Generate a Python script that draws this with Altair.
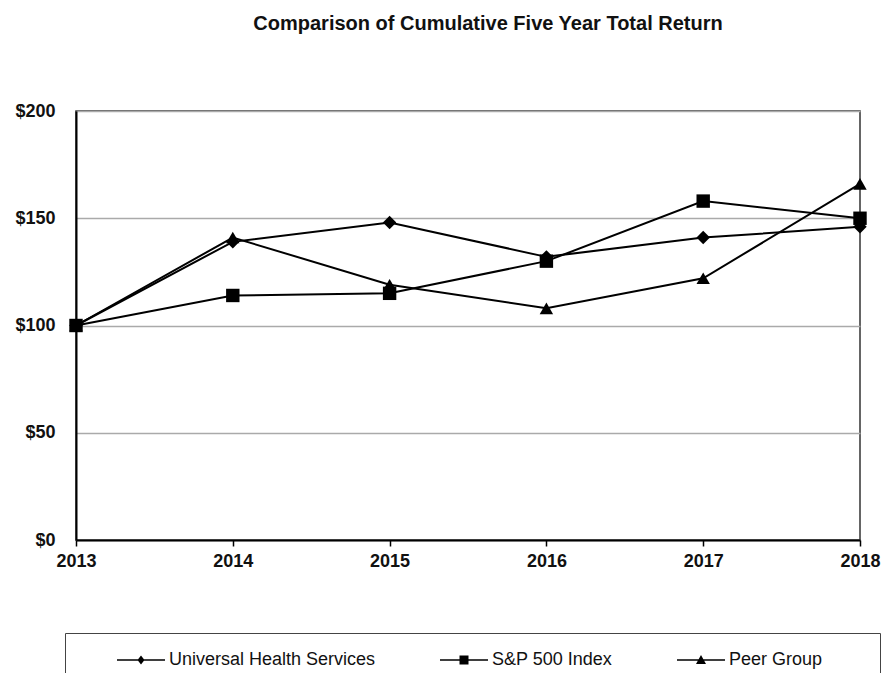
import altair as alt
import pandas as pd

years = [2013, 2014, 2015, 2016, 2017, 2018]
series_names = ["Universal Health Services", "S&P 500 Index", "Peer Group"]
uhs = [100, 139, 148, 132, 141, 146]
sp500 = [100, 114, 115, 130, 158, 150]
peer = [100, 141, 119, 108, 122, 166]
y_ticks = [0, 50, 100, 150, 200]
title_text = "Comparison  of Cumulative Five Year Total Return"

rows = []
for name, vals in zip(series_names, [uhs, sp500, peer]):
    for yr, v in zip(years, vals):
        rows.append({"year": yr, "series": name, "value": v})
df = pd.DataFrame(rows)

marker_shapes = ["diamond", "square", "triangle-up"]
# legend glyphs: a short line (thin filled bar) with the series marker on it;
# the last one carries an extra move-to so the legend frame reaches further right
legend_shapes = [
    "M5,-0.17H14.6V0.17H5Z M9.8,-0.9L10.5,0L9.8,0.9L9.1,0Z",
    "M5,-0.17H14.6V0.17H5Z M8.9,-0.9H10.7V0.9H8.9Z",
    "M5,-0.17H14.6V0.17H5Z M9.8,-1L10.8,0.8H8.8Z M42,0",
]

FONT = "Liberation Sans"

x = alt.X(
    "year:Q",
    scale=alt.Scale(domain=[2013, 2018], nice=False, zero=False),
    axis=alt.Axis(values=years, format="d", title=None, grid=False,
                  tickSize=6, tickColor="black", tickWidth=1.5,
                  labelPadding=6, labelFontSize=18, labelFontWeight="bold",
                  labelColor="#111", labelFont=FONT, labelFlush=False,
                  labelOverlap=False, domainColor="black", domainWidth=2),
)
y = alt.Y(
    "value:Q",
    scale=alt.Scale(domain=[0, 200], nice=False),
    axis=alt.Axis(values=y_ticks, labelExpr="'$' + datum.value", title=None,
                  ticks=False, tickSize=0, labelPadding=21, grid=True,
                  gridColor="#aaaaaa", gridWidth=1.5, domainColor="black",
                  domainWidth=2, labelFontSize=18, labelFontWeight="bold",
                  labelColor="#111", labelFont=FONT, labelFlush=False,
                  labelOverlap=False),
)

base = alt.Chart(df)

lines = base.mark_line(color="black", strokeWidth=2).encode(
    x=x, y=y, detail="series:N"
)

points = base.mark_point(filled=True, color="black", size=180, opacity=1).encode(
    x=x, y=y,
    shape=alt.Shape("series:N",
                    scale=alt.Scale(domain=series_names, range=marker_shapes),
                    legend=None),
)

legend_layer = base.transform_filter("datum.value < 0").mark_point(
    filled=True, color="black"
).encode(
    x=x, y=y,
    shape=alt.Shape(
        "series:N",
        scale=alt.Scale(domain=series_names, range=legend_shapes),
        legend=alt.Legend(
            title=None, orient="none", legendX=-11, legendY=522,
            direction="horizontal", strokeColor="#444", padding=18,
            columnPadding=30, labelFontSize=18, labelFont=FONT,
            labelColor="#111", labelOffset=68, labelLimit=400,
            symbolSize=100, symbolStrokeWidth=0, symbolFillColor="black",
            symbolOpacity=1,
        ),
    ),
)

chart = alt.layer(lines, points, legend_layer).resolve_scale(
    shape="independent"
).properties(
    width=784,
    height=429,
    autosize=alt.AutoSizeParams(type="none"),
    padding={"left": 68, "top": 103, "right": 25, "bottom": 133},
    title=alt.Title(title_text, fontSize=20, fontWeight="bold", font=FONT,
                    color="#111", anchor="middle", frame="group", dx=20,
                    offset=68),
).configure_view(stroke="#333", strokeWidth=1.5)

chart.save("out.html", embed_options={"renderer": "svg", "actions": False})
